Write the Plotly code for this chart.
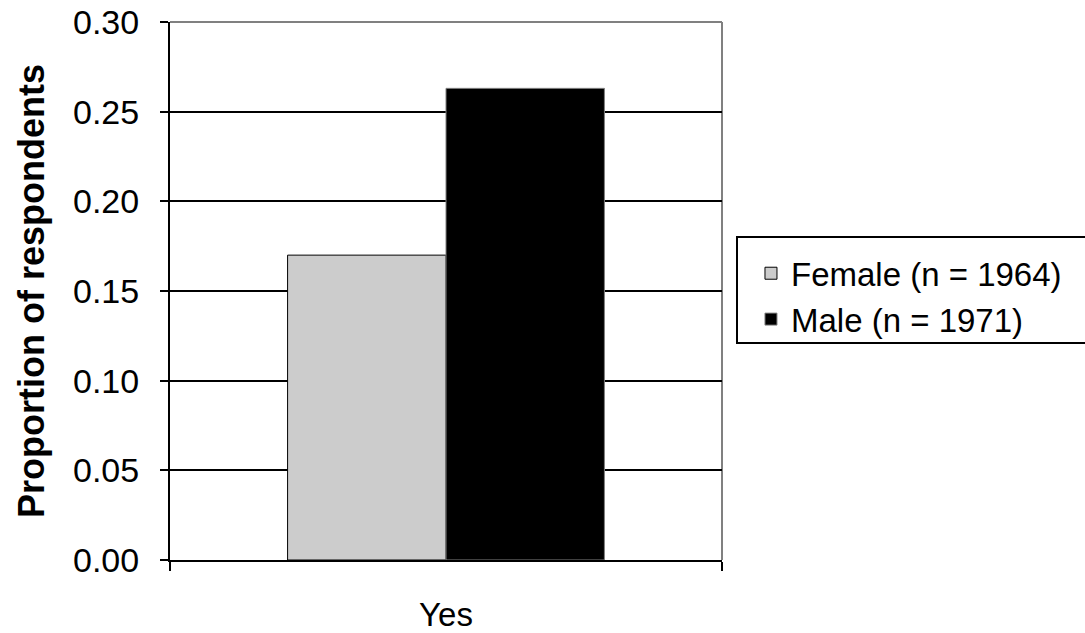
import plotly.graph_objects as go

categories = ["Yes"]
female = [0.170]
male = [0.263]
series_names = ["Female (n = 1964)", "Male (n = 1971)"]
y_ticks = [0.00, 0.05, 0.10, 0.15, 0.20, 0.25, 0.30]

FONT = "Liberation Sans, Arial, sans-serif"

fig = go.Figure()
fig.add_trace(go.Bar(x=categories, y=female, name=series_names[0],
                     marker=dict(color="#cccccc", line=dict(color="#000000", width=1))))
fig.add_trace(go.Bar(x=categories, y=male, name=series_names[1],
                     marker=dict(color="#000000", line=dict(color="#808080", width=1))))

fig.update_layout(
    width=1085, height=633,
    margin=dict(l=170, r=363, t=22, b=73, autoexpand=False),
    paper_bgcolor="white", plot_bgcolor="white",
    barmode="group", bargap=0.426, bargroupgap=0,
    font=dict(family=FONT, size=32, color="black"),
    showlegend=True,
    legend=dict(x=1.0525, y=0.585, xanchor="left", yanchor="top",
                borderwidth=0, bgcolor="rgba(0,0,0,0)",
                font=dict(size=33, family=FONT), itemwidth=30,
                tracegroupgap=0),
)
fig.update_xaxes(
    type="category", showline=True, linecolor="black", linewidth=2,
    ticks="outside", tickson="boundaries", ticklen=9, tickwidth=2, tickcolor="black",
    showgrid=False, mirror=False, tickfont=dict(size=33),
    ticklabelstandoff=24, automargin=False,
)
fig.update_yaxes(
    range=[0, 0.30], tickvals=y_ticks, tickformat=".2f",
    showline=True, linecolor="black", linewidth=2,
    ticks="outside", ticklen=8, tickwidth=2, tickcolor="black",
    showgrid=True, gridcolor="black", gridwidth=2,
    zeroline=False, tickfont=dict(size=34), ticklabelstandoff=14,
    automargin=False,
    title=dict(text="<b>Proportion of respondents</b>", font=dict(size=36), standoff=17),
)
# top / right border of plot area (grey)
fig.add_shape(type="line", xref="paper", yref="paper", x0=0, x1=1, y0=1, y1=1,
              line=dict(color="#808080", width=2), layer="below")
fig.add_shape(type="line", xref="paper", yref="paper", x0=1, x1=1, y0=0, y1=1,
              line=dict(color="#808080", width=2), layer="below")
# legend frame (extends to the right edge as in the reference)
fig.add_shape(type="rect", xref="paper", yref="paper",
              x0=(737 - 170) / 552, x1=(1090 - 170) / 552,
              y0=(560 - 343) / 538, y1=(560 - 237) / 538,
              line=dict(color="black", width=2), fillcolor="rgba(0,0,0,0)")

fig.write_html("out.html")
